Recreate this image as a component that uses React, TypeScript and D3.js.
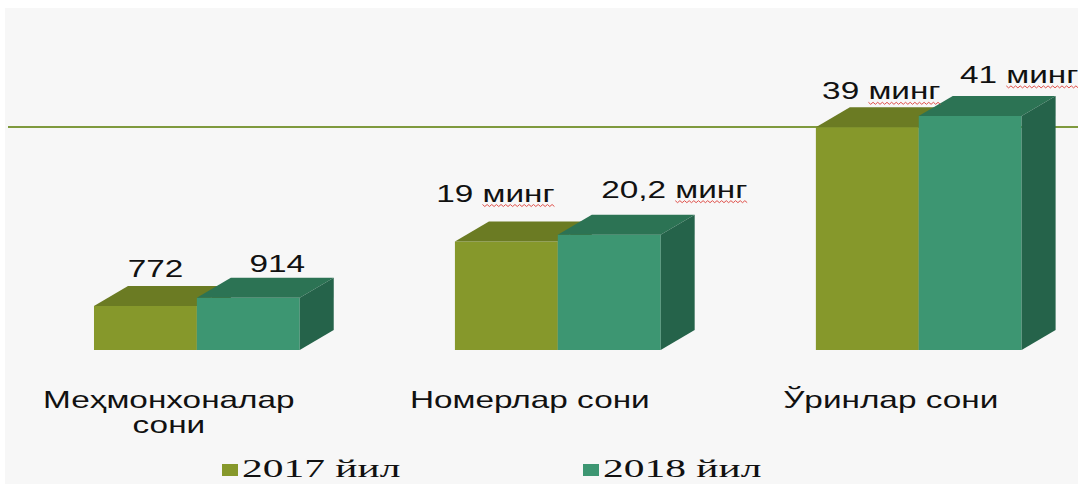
import React, { useEffect, useRef } from "react";
import * as d3 from "d3";

// Chart data
const categoryLines: string[][] = [["Меҳмонхоналар", "сони"], ["Номерлар сони"], ["Ўринлар сони"]];
const seriesNames = ["2017 йил", "2018 йил"];
const values2017 = [772, 19000, 39000];
const values2018 = [914, 20200, 41000];
// divisor that brings each measure onto the shared axis (hundreds / thousands)
const units = [100, 1000, 1000];

// Styling / layout
const W = 1078;
const H = 484;
const BASE_Y = 350;
const DEPTH_X = 34;
const DEPTH_Y = -20;
const STRETCH = 1.45;
const LEGEND_STRETCH = 1.66;
const SANS = "'Liberation Sans', Arial, sans-serif";
const SERIF = "'Liberation Serif', 'Times New Roman', serif";
const palette = [
  { front: "#86982b", top: "#6b7b23", side: "#5e6c1e" },
  { front: "#3d9672", top: "#2c7354", side: "#25634a" },
];
// hand-placed label offsets [dx from bar centre, gap above bar top]
const labelNudge = [
  [[10, 9], [-11, 20], [14, 8]],
  [[29, 6], [65, 17], [49, 13]],
];

function labelFor(v: number, i: number): string {
  if (units[i] === 1000) {
    return String(v / 1000).replace(".", ",") + " минг";
  }
  return String(v);
}

export default function App() {
  const ref = useRef<SVGSVGElement | null>(null);

  useEffect(() => {
    const svg = d3.select(ref.current);
    svg.selectAll("*").remove();
    document.body.style.overflow = "hidden";

    svg.append("rect").attr("width", W).attr("height", H).attr("fill", "#ffffff");
    svg.append("rect").attr("x", 5).attr("y", 8).attr("width", W - 5).attr("height", H - 8).attr("fill", "#f7f7f7");

    const series = [values2017, values2018];
    const cats = categoryLines.map((l) => l.join(" "));

    const x = d3.scaleBand<string>().domain(cats).range([21.8, 1093.8]).paddingInner(0.43).paddingOuter(0.2);
    const xs = d3.scaleBand<string>().domain(seriesNames).range([0, x.bandwidth()]).padding(0);
    const y = d3.scaleLinear().domain([0, 45]).range([BASE_Y, BASE_Y - 45 * 5.71]);

    // reference line
    svg.append("line")
      .attr("x1", 8).attr("x2", W).attr("y1", 127).attr("y2", 127)
      .attr("stroke", "#7f9a3e").attr("stroke-width", 2);

    const bars = svg.append("g");
    cats.forEach((c, i) => {
      series.forEach((vals, s) => {
        const v = vals[i] / units[i];
        const bx = (x(c) as number) + (xs(seriesNames[s]) as number);
        const bw = xs.bandwidth();
        const by = y(v);
        const col = palette[s];
        bars.append("rect").attr("x", bx).attr("y", by).attr("width", bw).attr("height", BASE_Y - by).attr("fill", col.front);
        bars.append("polygon")
          .attr("points", [[bx, by], [bx + DEPTH_X, by + DEPTH_Y], [bx + bw + DEPTH_X, by + DEPTH_Y], [bx + bw, by]].map((p) => p.join(",")).join(" "))
          .attr("fill", col.top);
        bars.append("polygon")
          .attr("points", [[bx + bw, by], [bx + bw + DEPTH_X, by + DEPTH_Y], [bx + bw + DEPTH_X, BASE_Y + DEPTH_Y], [bx + bw, BASE_Y]].map((p) => p.join(",")).join(" "))
          .attr("fill", col.side);
      });
    });

    // value labels
    cats.forEach((c, i) => {
      series.forEach((vals, s) => {
        const v = vals[i] / units[i];
        const bx = (x(c) as number) + (xs(seriesNames[s]) as number);
        const cx = bx + xs.bandwidth() / 2 + labelNudge[s][i][0];
        const ty = y(v) + DEPTH_Y - labelNudge[s][i][1];
        const txt = labelFor(vals[i], i);
        const g = svg.append("g").attr("transform", `translate(${cx},${ty}) scale(${STRETCH},1)`);
        const t = g.append("text")
          .attr("text-anchor", "middle")
          .attr("font-family", SANS)
          .attr("font-size", 23)
          .attr("fill", "#111")
          .text(txt);
        const idx = txt.indexOf("минг");
        if (idx >= 0) {
          const node = t.node() as SVGTextElement;
          const total = node.getComputedTextLength();
          const start = -total / 2 + node.getSubStringLength(0, idx);
          const len = node.getSubStringLength(idx, 4);
          const pts: string[] = [];
          let k = 0;
          for (let px = start; px <= start + len; px += 1.6) {
            pts.push(`${px},${k % 2 === 0 ? 3 : 5}`);
            k++;
          }
          g.append("path")
            .attr("d", "M" + pts.join("L"))
            .attr("fill", "none")
            .attr("stroke", "#e0504a")
            .attr("stroke-width", 1)
            .attr("vector-effect", "non-scaling-stroke");
        }
      });
    });

    // category labels
    cats.forEach((c, i) => {
      const cx = (x(c) as number) + x.bandwidth() / 2 - 28;
      categoryLines[i].forEach((line, li) => {
        svg.append("g")
          .attr("transform", `translate(${cx},${408 + li * 25}) scale(${STRETCH},1)`)
          .append("text")
          .attr("text-anchor", "middle")
          .attr("font-family", SANS)
          .attr("font-size", 23)
          .attr("fill", "#111")
          .text(line);
      });
    });

    // legend
    const legendX = [222, 583];
    seriesNames.forEach((name, s) => {
      svg.append("rect")
        .attr("x", legendX[s]).attr("y", 464).attr("width", 16).attr("height", 12)
        .attr("fill", palette[s].front);
      svg.append("g")
        .attr("transform", `translate(${legendX[s] + 20},477) scale(${LEGEND_STRETCH},1)`)
        .append("text")
        .attr("font-family", SERIF)
        .attr("font-size", 25)
        .attr("fill", "#111")
        .text(name);
    });
  }, []);

  return (
    <svg
      ref={ref}
      width={W}
      height={H}
      style={{ position: "absolute", left: 0, top: 0, display: "block" }}
    />
  );
}
